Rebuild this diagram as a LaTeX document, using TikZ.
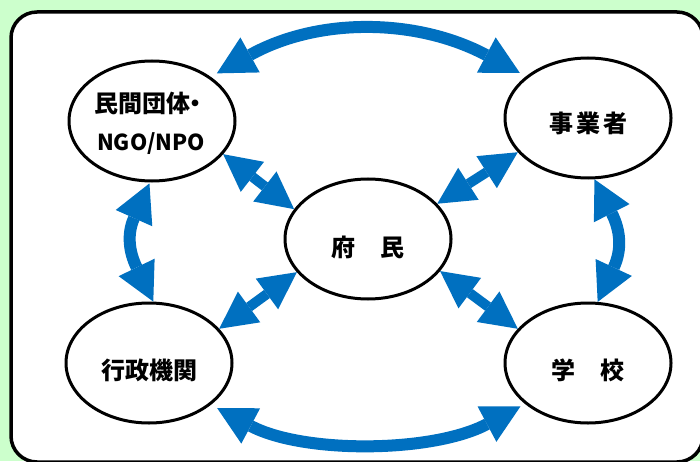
\documentclass[tikz,border=0pt]{standalone}
\usepackage{fontspec}
\newfontfamily\jp{Noto Sans CJK JP}
\usetikzlibrary{arrows.meta,shapes.geometric}
\definecolor{bggreen}{HTML}{CCFFCC}
\definecolor{arrowblue}{HTML}{0070C0}
\begin{document}
\begin{tikzpicture}[x=1pt,y=1pt,
  ell/.style={draw=black, line width=3pt, fill=white, ellipse, minimum width=166pt, minimum height=120pt, inner sep=0pt},
  lbl/.style={font=\jp\bfseries\fontsize{24}{28}\selectfont, inner sep=0pt, anchor=base},
  lblsmall/.style={font=\jp\bfseries\fontsize{22}{28}\selectfont, inner sep=0pt, anchor=base},
  bigtip/.tip={Triangle[length=38pt,width=40pt,line width=0pt]},
  smalltip/.tip={Triangle[length=37pt,width=38pt,line width=0pt]},
  curvearrow/.style={draw=arrowblue, line width=12pt, bigtip-bigtip},
  diagarrow/.style={draw=arrowblue, line width=10pt, smalltip-smalltip}]
\useasboundingbox (0,0) rectangle (700,461);
\fill[bggreen] (0,0) rectangle (700,461);
\draw[line width=3.5pt, fill=white, rounded corners=26pt] (11,-1) rectangle (703,449);

\node[ell] (ngo) at (152,340) {};
\node[ell] (biz) at (588,343) {};
\node[ell] (cit) at (368,222) {};
\node[ell] (gov) at (149,98) {};
\node[ell] (school) at (588,98) {};

\node[lbl] (ngo-t1) at (151,348) {民間団体\hspace{-7pt}・};
\node[lblsmall] (ngo-t2) at (151,310) {NGO/NPO};
\node[lbl] (biz-t) at (588,328) {事\hspace{3pt}業\hspace{3pt}者};
\node[lbl] (cit-t) at (368,205) {府\hspace{26pt}民};
\node[lbl] (gov-t) at (149,82) {行政機関};
\node[lbl] (school-t) at (588,82) {学\hspace{25pt}校};

\draw[curvearrow, shorten <=7pt, shorten >=7pt] (ngo.37) to[out=29,in=152] (biz.146);
\draw[curvearrow, shorten <=1pt] (ngo.-92) to[out=246,in=116,looseness=1.2] (gov.86);
\draw[curvearrow] (biz.-84) to[out=297,in=65,looseness=1.2] (school.81);
\draw[curvearrow, shorten <=7pt, shorten >=5pt] (gov.-34) to[out=-28,in=-152,looseness=0.85] (school.-147);

\draw[diagarrow] (ngo.-25) -- (cit.158);
\draw[diagarrow] (cit.27) -- (biz.-154);
\draw[diagarrow] (cit.205) -- (gov.26);
\draw[diagarrow] (cit.-24) -- (school.154);
\end{tikzpicture}
\end{document}
